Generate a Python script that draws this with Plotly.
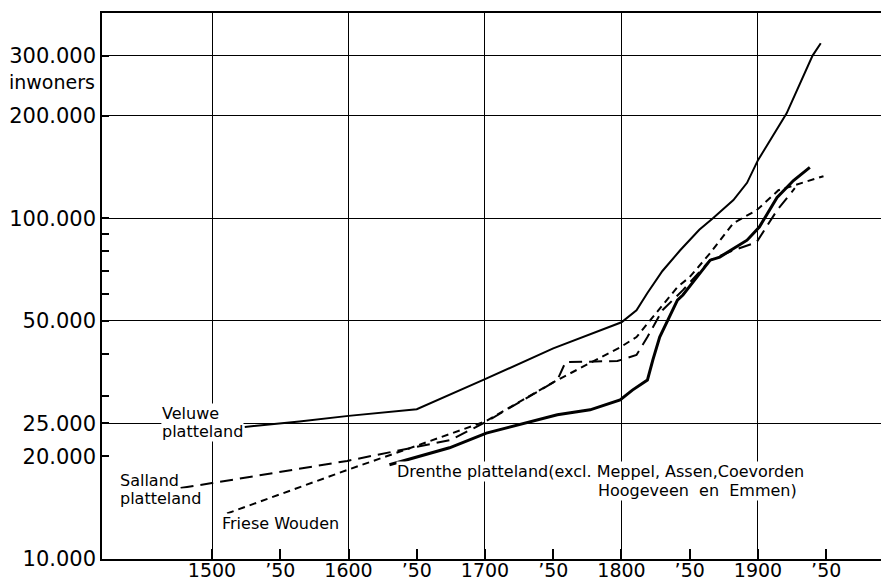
import math
import plotly.graph_objects as go

# ---- data ----
veluwe_years = [1524, 1564, 1600, 1650, 1700, 1750, 1800, 1811, 1819, 1830, 1843, 1857, 1867, 1882, 1892, 1900, 1921, 1940, 1946]
veluwe_vals = [24400, 25300, 26300, 27500, 33700, 41500, 49500, 53700, 60300, 70000, 80500, 92500, 100000, 113000, 127000, 148000, 203000, 300000, 326000]

salland_years = [1477, 1500, 1599, 1650, 1675, 1701, 1753, 1759, 1797, 1811, 1819, 1830, 1845, 1865, 1882, 1899, 1914, 1927]
salland_vals = [16150, 16700, 19400, 21300, 22350, 25300, 33500, 37800, 38100, 39700, 44800, 53700, 61500, 75300, 80500, 85000, 105500, 122500]

friese_years = [1511, 1600, 1650, 1700, 1753, 1799, 1811, 1823, 1841, 1850, 1865, 1882, 1899, 1915, 1931, 1948]
friese_vals = [13600, 18300, 21500, 25300, 33500, 41800, 44800, 51300, 62800, 67200, 79000, 96700, 105500, 120800, 126700, 132800]

drenthe_years = [1630, 1674, 1701, 1731, 1753, 1777, 1799, 1808, 1819, 1823, 1828, 1841, 1845, 1865, 1872, 1892, 1901, 1914, 1926, 1938]
drenthe_vals = [18900, 21200, 23400, 25100, 26500, 27400, 29300, 31300, 33500, 38400, 44800, 57500, 59500, 75300, 76900, 86200, 94200, 115000, 129000, 141000]

x_tick_vals = [1500, 1550, 1600, 1650, 1700, 1750, 1800, 1850, 1900, 1950]
x_tick_text = ["1500", "\u201950", "1600", "\u201950", "1700", "\u201950", "1800", "\u201950", "1900", "\u201950"]
x_grid_vals = [1500, 1600, 1700, 1800, 1900]

y_tick_vals = [10000, 20000, 25000, 30000, 40000, 50000, 60000, 70000, 80000, 90000, 100000, 200000, 300000]
y_tick_text = ["10.000", "20.000", "25.000", "", "", "50.000", "", "", "", "", "100.000", "200.000", "300.000"]
y_grid_vals = [25000, 50000, 100000, 200000, 300000]

FONT = "DejaVu Sans"
OFF = 8  # default page body margin that shifts the figure
PAGE_W, PAGE_H = 889, 583
W, H = PAGE_W - OFF, PAGE_H - OFF
# plot area in page pixels: left 102, top 13, bottom 559, right 889
ML, MT = 102 - OFF, 13 - OFF
MR = 0
MB = H - (559 - OFF)
PW, PH = W - ML - MR, H - MT - MB


def px(x):
    return (x - OFF - ML) / PW


def py(y):
    return (H - MB - (y - OFF)) / PH


fig = go.Figure()
fig.add_trace(go.Scatter(x=veluwe_years, y=veluwe_vals, mode="lines",
                         line=dict(color="black", width=2), name="Veluwe platteland"))
fig.add_trace(go.Scatter(x=salland_years, y=salland_vals, mode="lines",
                         line=dict(color="black", width=2, dash="13px,7px"), name="Salland platteland"))
fig.add_trace(go.Scatter(x=friese_years, y=friese_vals, mode="lines",
                         line=dict(color="black", width=2, dash="7px,5px"), name="Friese Wouden"))
fig.add_trace(go.Scatter(x=drenthe_years, y=drenthe_vals, mode="lines",
                         line=dict(color="black", width=3), name="Drenthe platteland"))

labels = [
    ("Veluwe", 161, 413),
    ("platteland", 161, 432),
    ("Salland", 119, 480),
    ("platteland", 119, 498),
    ("Friese Wouden", 221, 523),
    ("Drenthe platteland(excl. Meppel, Assen,Coevorden", 396, 471),
    ("Hoogeveen  en  Emmen)", 597, 490),
]
annotations = []
for text, lx, ly in labels:
    annotations.append(dict(text=text, xref="paper", yref="paper", x=px(lx), y=py(ly),
                            xanchor="left", yanchor="middle", showarrow=False,
                            font=dict(family=FONT, size=16, color="black"),
                            bgcolor="white", borderpad=0))
annotations.append(dict(text="inwoners", xref="paper", yref="paper", x=px(97), y=py(82),
                        xanchor="right", yanchor="middle", showarrow=False,
                        font=dict(family=FONT, size=19, color="black")))

fig.update_layout(
    width=W, height=H,
    margin=dict(l=ML, r=MR, t=MT, b=MB, pad=0),
    paper_bgcolor="white", plot_bgcolor="white",
    showlegend=False,
    annotations=annotations,
    xaxis=dict(
        range=[1419.4, 1996.0],
        automargin=False,
        tickmode="array", tickvals=x_tick_vals, ticktext=x_tick_text,
        ticks="inside", ticklen=10, tickwidth=1.5, tickcolor="black",
        ticklabelstandoff=-7,
        showgrid=False, zeroline=False,
        showline=True, linecolor="black", linewidth=1.5, mirror=True,
        tickfont=dict(family=FONT, size=19, color="black"),
        minor=dict(tickmode="array", tickvals=x_grid_vals, ticks="outside", ticklen=0,
                   showgrid=True, gridcolor="black", gridwidth=1.3),
    ),
    yaxis=dict(
        type="log",
        automargin=False,
        range=[math.log10(10000), math.log10(400000)],
        tickmode="array", tickvals=y_tick_vals, ticktext=y_tick_text,
        ticks="inside", ticklen=7, tickwidth=1.5, tickcolor="black",
        showgrid=False, zeroline=False,
        showline=True, linecolor="black", linewidth=1.5,
        tickfont=dict(family=FONT, size=21, color="black"),
        minor=dict(tickmode="array", tickvals=y_grid_vals, ticks="outside", ticklen=0,
                   showgrid=True, gridcolor="black", gridwidth=1.3),
    ),
)

fig.write_html("out.html")
